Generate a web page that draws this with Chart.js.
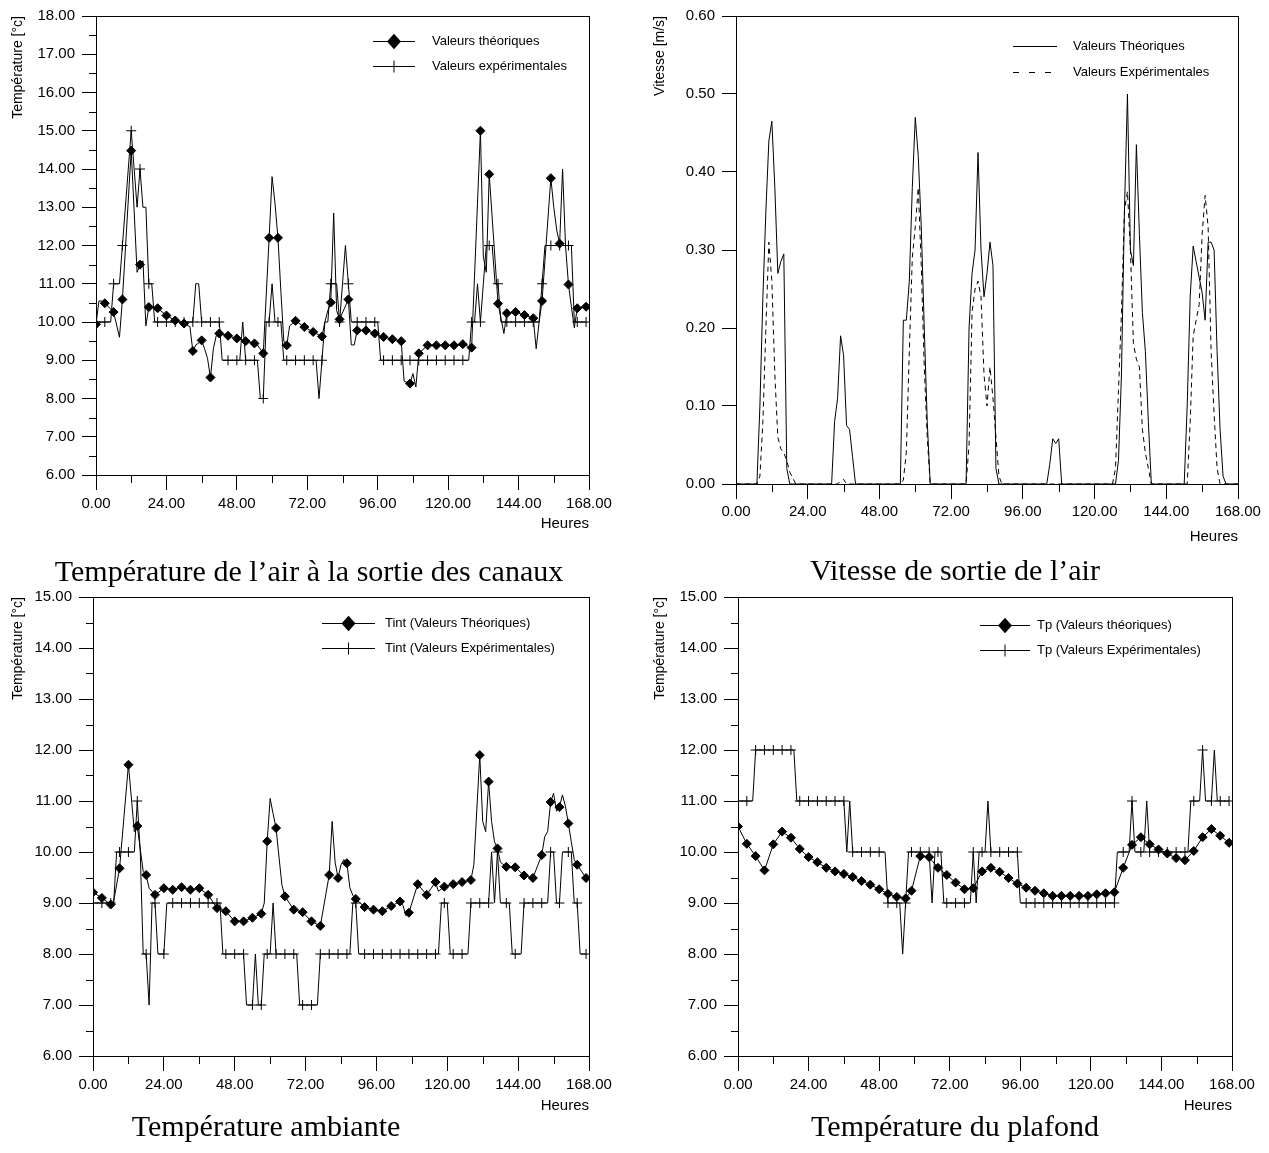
<!DOCTYPE html>
<html lang="fr">
<head>
<meta charset="utf-8">
<title>Températures et vitesse de l'air</title>
<script src="https://cdn.jsdelivr.net/npm/chart.js@4.4.1/dist/chart.umd.min.js"></script>
<style>
  html, body { margin: 0; padding: 0; background: #fff; }
  body { width: 1269px; height: 1153px; position: relative; overflow: hidden; }
  canvas { position: absolute; }
  .caption {
    position: absolute;
    font-family: "Liberation Serif", "Times New Roman", serif;
    font-size: 30px;
    color: #000;
    white-space: nowrap;
    transform: translate(-50%, -50%);
  }
</style>
</head>
<body>
<canvas id="sortie" width="630" height="545" style="left:0;top:0"></canvas>
<canvas id="vitesse" width="639" height="550" style="left:630px;top:0"></canvas>
<canvas id="ambiante" width="630" height="540" style="left:0;top:580px"></canvas>
<canvas id="plafond" width="639" height="540" style="left:630px;top:580px"></canvas>

<div class="caption" style="left:309px;top:571px">Température de l’air à la sortie des canaux</div>
<div class="caption" style="left:955px;top:570px">Vitesse de sortie de l’air</div>
<div class="caption" style="left:266px;top:1126px">Température ambiante</div>
<div class="caption" style="left:955px;top:1126px">Température du plafond</div>

<script>
// heures 0..168
const hours = Array.from({ length: 169 }, (_, h) => h);
const xMajor = [0, 24, 48, 72, 96, 120, 144, 168];
const xMinor = [12, 36, 60, 84, 108, 132, 156];
const yMinorSortie = [6.5, 7.5, 8.5, 9.5, 10.5, 11.5, 12.5, 13.5, 14.5, 15.5, 16.5, 17.5];
const yMinorTemp = [6.5, 7.5, 8.5, 9.5, 10.5, 11.5, 12.5, 13.5, 14.5];

// Température de l'air à la sortie des canaux
const theoSortie = [
  9.94, 10.55, 10.55, 10.49, null, null, 10.26, null, 9.6, 10.59, null, null,
  14.48, 12.9, 11.3, 11.5, 11.6, 9.9, 10.39, null, null, 10.36, null, null,
  10.17, null, null, 10.04, null, null, 9.96, null, 9.88, 9.24, 9.4, 9.45,
  9.52, 9.3, 9.05, 8.55, 9.3, 9.65, 9.70, null, null, 9.64, null, null,
  9.57, null, null, 9.50, null, null, 9.44, 9.4, null, 9.18,
  null, 12.2, 13.8, 13.1, 12.2, 10.8, 9.5, 9.39, 9.9, null, 10.03, null,
  null, 9.87, null, null, 9.74, null, null, 9.62, 10.0, 10.3, 10.51, 12.85,
  10.3, 10.07, null, null, 10.59, 9.4, 9.4, 9.78, null, null, 9.78, null,
  null, 9.70, null, null, 9.61, null, null, 9.55, null, null, 9.50, 8.45,
  null, 8.39, 8.65, 8.3, 9.18, null, null, 9.39, null, null, 9.39, null,
  null, 9.39, null, null, 9.39, null, null, 9.42, null, null, 9.33, null,
  null, 15.0, 11.7, 11.3, 13.86, null, null, 10.48, 10.1, 9.7, 10.23, null,
  null, 10.26, null, null, 10.18, null, null, 10.10, 9.3, 10.0, 10.55, null,
  null, 13.76, 13.0, 12.4, 12.05, 14.0, 12.0, 10.98, 10.4, 9.85, 10.36, null,
  null, 10.40
];
const expSortie = [
  10, 10, 10, 10, 10, 10, 11, 11, 11, 12, null, null,
  15, null, 13, 14, 13, 13, 11, 11, 10, 10, 10, 10,
  10, 10, 10, 10, 10, 10, 10, 10, 10, 10, 11, 11,
  10, 10, 10, 10, 10, 10, 10, 9, 9, 9, 9, 9,
  9, 9, 10, 9, 9, 9, 9, 9, 8, 8,
  10, 10, 11, 10, 10, 10, 9, 9, 9, 9, 9, 9,
  9, 9, 9, 9, 9, 9, 8, 9, 10, 10, 11, 11,
  11, 10, 11, 12, 11, 10, 10, 10, 10, 10, 10, 10,
  10, 10, 10, 9, 9, 9, 9, 9, 9, 9, 9, 9,
  9, 9, 9, 9, 9, 9, 9, 9, 9, 9, 9, 9,
  9, 9, 9, 9, 9, 9, 9, 9, 9, 9, 10, 10,
  11, 10, 11, 12, 12, 12, 11, 11, 10, 10, 10, 10,
  10, 10, 10, 10, 10, 10, 10, 10, 10, 10, 11, 12,
  12, 12, 12, 12, 12, 12, 12, 12, 12, 10, 10, 10,
  10, 10
];

// Vitesse de sortie de l'air
const theoVitesse = [
  0, 0, 0, 0, 0, 0, 0, 0, 0.10, 0.24, 0.35, 0.44,
  0.465, 0.38, 0.27, 0.285, 0.295, 0.02, 0, 0, 0, 0, 0, 0,
  0, 0, 0, 0, 0, 0, 0, 0, 0, 0.08, 0.11, 0.19,
  0.165, 0.075, 0.07, 0.035, 0, 0, 0, 0, 0, 0, 0, 0,
  0, 0, 0, 0, 0, 0, 0, 0, 0.21, 0.21, 0.26, 0.38,
  0.47, 0.42, 0.33, 0.2, 0.08, 0, 0, 0, 0, 0, 0, 0,
  0, 0, 0, 0, 0, 0, 0.2, 0.27, 0.3, 0.425, 0.3, 0.24,
  0.27, 0.31, 0.28, 0.02, 0, 0, 0, 0, 0, 0, 0, 0,
  0, 0, 0, 0, 0, 0, 0, 0, 0, 0.025, 0.058, 0.052,
  0.058, 0, 0, 0, 0, 0, 0, 0, 0, 0, 0, 0,
  0, 0, 0, 0, 0, 0, 0, 0, 0.03, 0.14, 0.35, 0.50,
  0.30, 0.28, 0.435, 0.32, 0.22, 0.17, 0.08, 0, 0, 0, 0, 0,
  0, 0, 0, 0, 0, 0, 0, 0.1, 0.24, 0.305, 0.285, 0.265,
  0.245, 0.21, 0.31, 0.31, 0.30, 0.17, 0.07, 0.01, 0, 0, 0, 0,
  0
];
const expVitesse = [
  0, 0, 0, 0, 0, 0, 0, 0, 0.01, 0.08, 0.2, 0.31,
  0.26, 0.14, 0.06, 0.045, 0.04, 0.03, 0.015, 0.008, 0, 0, 0, 0,
  0, 0, 0, 0, 0, 0, 0, 0, 0, 0, 0, 0.004,
  0.006, 0, 0, 0, 0, 0, 0, 0, 0, 0, 0, 0,
  0, 0, 0, 0, 0, 0, 0, 0, 0.005, 0.04, 0.17, 0.29,
  0.33, 0.38, 0.28, 0.15, 0.06, 0, 0, 0, 0, 0, 0, 0,
  0, 0, 0, 0, 0, 0, 0.05, 0.22, 0.25, 0.26, 0.24, 0.14,
  0.1, 0.15, 0.11, 0.06, 0.01, 0, 0, 0, 0, 0, 0, 0,
  0, 0, 0, 0, 0, 0, 0, 0, 0, 0, 0, 0,
  0, 0, 0, 0, 0, 0, 0, 0, 0, 0, 0, 0,
  0, 0, 0, 0, 0, 0, 0, 0.02, 0.12, 0.22, 0.35, 0.375,
  0.3, 0.18, 0.16, 0.15, 0.07, 0.04, 0.02, 0, 0, 0, 0, 0,
  0, 0, 0, 0, 0, 0, 0, 0, 0.08, 0.19, 0.21, 0.23,
  0.32, 0.37, 0.33, 0.17, 0.09, 0.02, 0, 0, 0, 0, 0, 0,
  0
];

// Température ambiante
const theoAmbiante = [
  9.21, null, null, 9.10, null, null, 8.97, 9.03, null, 9.68, null, null,
  11.71, null, 10.4, 10.51, null, 9.62, 9.55, 9.29, null, 9.16, null, null,
  9.29, null, null, 9.26, null, null, 9.31, null, null, 9.26, null, null,
  9.29, null, null, 9.16, null, null, 8.90, null, null, 8.84, null, null,
  8.64, null, null, 8.64, null, null, 8.71, null, null, 8.79,
  9.0, 10.21, 11.05, 10.75, 10.47, 9.9, 9.35, 9.13, null, null, 8.87, null,
  null, 8.82, null, null, 8.64, null, null, 8.55, null, null, 9.55, 10.6,
  9.8, 9.49, 9.75, 9.85, 9.78, 9.3, 9.15, 9.08, null, null, 8.92, null,
  null, 8.87, null, null, 8.84, null, null, 8.94, null, null, 9.03, 8.95,
  8.75, 8.81, null, null, 9.37, null, null, 9.16, null, null, 9.41, 9.23,
  null, 9.32, null, null, 9.37, null, null, 9.41, null, null, 9.45, 9.75,
  null, 11.9, 10.6, 10.4, 11.38, 10.6, 10.2, 10.07, 9.8, null, 9.71, null,
  null, 9.70, null, null, 9.54, null, null, 9.49, null, null, 9.94, 10.3,
  10.4, 10.98, 11.15, 10.8, 10.88, 11.12, 10.9, 10.56, 10.2, 9.85, 9.75, null,
  null, 9.49
];
const expAmbiante = [
  9, 9, 9, 9, 9, 9, 9, 9, 10, 10, 10, 10,
  10, 10, 10, 11, 10, 8, 8, 7, 9, 9, 8, 8,
  8, 9, 9, 9, 9, 9, 9, 9, 9, 9, 9, 9,
  9, 9, 9, 9, 9, 9, 9, 9, 8, 8, 8, 8,
  8, 8, 8, 8, 7, 7, 7, 8, 7, 7, 8, 8,
  8, 9, 8, 8, 8, 8, 8, 8, 8, 8, 7, 7,
  7, 7, 7, 7, 7, 8, 8, 8, 8, 8, 8, 8,
  8, 8, 8, 8, 9, 9, 8, 8, 8, 8, 8, 8,
  8, 8, 8, 8, 8, 8, 8, 8, 8, 8, 8, 8,
  8, 8, 8, 8, 8, 8, 8, 8, 8, 8, 9, 9,
  9, 8, 8, 8, 8, 8, 8, 8, 9, 9, 9, 9,
  9, 9, 9, 10, 9, 10, 9, 9, 9, 9, 8, 8,
  8, 8, 9, 9, 9, 9, 9, 9, 9, 9, 9, 10,
  10, 9, 9, 10, 10, 10, 10, 9, 9, 8, 8, 8
];

// Température du plafond
const theoPlafond = [
  10.50, null, null, 10.16, null, null, 9.92, null, null, 9.64, null, null,
  10.15, null, null, 10.40, null, null, 10.28, null, null, 10.06, null, null,
  9.90, null, null, 9.80, null, null, 9.69, null, null, 9.62, null, null,
  9.57, null, null, 9.51, null, null, 9.43, null, null, 9.36, null, null,
  9.27, null, null, 9.18, null, null, 9.12, null, null, 9.09, null, 9.24,
  null, null, 9.92, null, null, 9.90, null, null, 9.69, null, null, 9.55,
  null, null, 9.40, null, null, 9.27, null, null, 9.29, null, null, 9.62,
  null, null, 9.69, null, null, 9.61, null, null, 9.49, null, null, 9.38,
  null, null, 9.30, null, null, 9.24, null, null, 9.19, null, null, 9.14,
  null, null, 9.14, null, null, 9.14, null, null, 9.14, null, null, 9.14,
  null, null, 9.17, null, null, 9.19, null, null, 9.21, null, null, 9.69,
  null, null, 10.14, null, null, 10.29, null, null, 10.15, null, null, 10.05,
  null, null, 9.97, null, null, 9.88, null, null, 9.84, null, null, 10.02,
  null, null, 10.29, null, null, 10.45, null, null, 10.32, null, null, 10.18
];
const expPlafond = [
  11, 11, 11, 11, 11, 11, 12, 12, 12, 12, 12, 12,
  12, 12, 12, 12, 12, 12, 12, 12, 11, 11, 11, 11,
  11, 11, 11, 11, 11, 11, 11, 11, 11, 11, 11, 11,
  11, 10, 11, 10, 10, 10, 10, 10, 10, 10, 10, 10,
  10, 10, 10, 9, 9, 9, 9, 9, 8, 9, 10, 10,
  10, 10, 10, 10, 10, 10, 9, 10, 10, 10, 9, 9,
  9, 9, 9, 9, 9, 9, 9, 9, 10, 9, 10, 10,
  10, 11, 10, 10, 10, 10, 10, 10, 10, 10, 10, 10,
  9, 9, 9, 9, 9, 9, 9, 9, 9, 9, 9, 9,
  9, 9, 9, 9, 9, 9, 9, 9, 9, 9, 9, 9,
  9, 9, 9, 9, 9, 9, 9, 9, 9, 10, 10, 10,
  10, 10, 11, 10, 10, 10, 10, 11, 10, 10, 10, 10,
  10, 10, 10, 10, 10, 10, 10, 10, 10, 10, 11, 11,
  11, 11, 12, 11, 11, 11, 12, 11, 11, 11, 11, 11
];

const SANS = '"Liberation Sans", Arial, sans-serif';

// markers: every 3 h, one hour earlier after the gap near h58
const isMarker = h => (h <= 57 ? h % 3 === 0 : h % 3 === 2);

// minor ticks + closed frame around the plot
const framePlugin = {
  id: 'frame',
  afterDraw(chart, args, opts) {
    const { ctx, chartArea: a } = chart;
    const xs = chart.scales.x, ys = chart.scales.y;
    ctx.save();
    ctx.strokeStyle = '#000';
    ctx.lineWidth = 1;
    ctx.strokeRect(Math.round(a.left) + 0.5, Math.round(a.top) + 0.5,
      Math.round(a.right - a.left), Math.round(a.bottom - a.top));
    ctx.beginPath();
    (opts.xMinor || []).forEach(v => {
      const px = Math.round(xs.getPixelForValue(v)) + 0.5;
      ctx.moveTo(px, a.bottom);
      ctx.lineTo(px, a.bottom + 8);
    });
    (opts.yMinor || []).forEach(v => {
      const py = Math.round(ys.getPixelForValue(v)) + 0.5;
      ctx.moveTo(a.left, py);
      ctx.lineTo(a.left - 7, py);
    });
    ctx.stroke();
    ctx.restore();
  }
};

function drawMark(ctx, style, x, y, size) {
  ctx.beginPath();
  if (style === 'rectRot') {
    ctx.moveTo(x, y - size * 1.1);
    ctx.lineTo(x + size, y);
    ctx.lineTo(x, y + size * 1.1);
    ctx.lineTo(x - size, y);
    ctx.closePath();
    ctx.fill();
  } else if (style === 'cross') {
    ctx.moveTo(x, y - size);
    ctx.lineTo(x, y + size);
    ctx.moveTo(x - size, y);
    ctx.lineTo(x + size, y);
    ctx.stroke();
  }
}

// legend inside the plot area, line sample with its marker
const legendPlugin = {
  id: 'innerLegend',
  afterDraw(chart, args, o) {
    const { ctx, chartArea: a } = chart;
    ctx.save();
    ctx.font = '13px ' + SANS;
    ctx.fillStyle = '#000';
    ctx.strokeStyle = '#000';
    ctx.lineWidth = 1;
    ctx.textBaseline = 'middle';
    chart.data.datasets.forEach((ds, i) => {
      const y = Math.round(a.top + o.top + i * o.gap) + 0.5;
      const x0 = a.right - o.right;
      ctx.setLineDash(ds.legendDash || []);
      ctx.beginPath();
      ctx.moveTo(x0, y);
      ctx.lineTo(x0 + o.width, y);
      ctx.stroke();
      ctx.setLineDash([]);
      if (ds.markStyle) drawMark(ctx, ds.markStyle, x0 + o.width / 2, y, ds.markStyle === 'cross' ? 6 : 7);
      ctx.fillText(ds.label, x0 + o.width + o.pad, y);
    });
    ctx.restore();
  }
};

function series(label, values, style, extra) {
  return Object.assign({
    label: label,
    data: values,
    borderColor: '#000',
    backgroundColor: '#000',
    borderWidth: 1,
    tension: 0,
    spanGaps: true,
    markStyle: style,
    pointStyle: style || 'circle',
    pointRadius: c => (style && isMarker(c.dataIndex) ? (style === 'cross' ? 5 : 4.5) : 0),
    pointHoverRadius: 0,
    pointBorderWidth: 1
  }, extra || {});
}

function buildPanel(id, p) {
  const canvas = document.getElementById(id);
  const W = canvas.width, H = canvas.height;
  return new Chart(canvas, {
    type: 'line',
    data: { labels: hours, datasets: p.datasets },
    options: {
      responsive: false,
      animation: false,
      devicePixelRatio: 1,
      events: [],
      layout: { padding: { left: 0, top: p.area.top, right: W - p.area.right, bottom: 0 } },
      scales: {
        x: {
          type: 'linear',
          min: 0, max: 168,
          afterFit: s => { s.height = H - p.area.bottom; },
          afterBuildTicks: s => { s.ticks = xMajor.map(v => ({ value: v })); },
          ticks: {
            autoSkip: false, maxRotation: 0, padding: p.xPad, color: '#000',
            font: { family: SANS, size: 15 },
            callback: v => v.toFixed(2)
          },
          grid: { drawOnChartArea: false, drawTicks: true, tickLength: 15, color: '#000' },
          border: { color: '#000', width: 1 },
          title: {
            display: true, text: 'Heures', align: 'end', color: '#000',
            font: { family: SANS, size: 15 }, padding: { top: 0, bottom: p.titlePad }
          }
        },
        y: {
          min: p.yMin, max: p.yMax,
          afterFit: s => { s.width = p.area.left; },
          afterBuildTicks: s => { s.ticks = p.yTicks.map(v => ({ value: v })); },
          ticks: {
            autoSkip: false, padding: 7, color: '#000',
            font: { family: SANS, size: 15 },
            callback: v => v.toFixed(2)
          },
          grid: { drawOnChartArea: false, drawTicks: true, tickLength: 14, color: '#000' },
          border: { color: '#000', width: 1 },
          title: {
            display: true, text: p.yTitle, align: 'end', color: '#000',
            font: { family: SANS, size: 14 }, padding: { top: p.yTitlePad, bottom: 0 }
          }
        }
      },
      plugins: {
        legend: { display: false },
        tooltip: { enabled: false },
        frame: { xMinor: xMinor, yMinor: p.yMinor },
        innerLegend: p.legend
      }
    },
    plugins: [framePlugin, legendPlugin]
  });
}

const tempTicks = [6, 7, 8, 9, 10, 11, 12, 13, 14, 15];

buildPanel('sortie', {
  area: { left: 96, top: 13, right: 589, bottom: 475 },
  yMin: 6, yMax: 18,
  yTicks: [6, 7, 8, 9, 10, 11, 12, 13, 14, 15, 16, 17, 18],
  yMinor: yMinorSortie,
  yTitle: 'Température [°c]', yTitlePad: 10,
  xPad: 5, titlePad: 12,
  legend: { right: 216, top: 25, gap: 25, width: 42, pad: 17 },
  datasets: [
    series('Valeurs théoriques', theoSortie, 'rectRot'),
    series('Valeurs expérimentales', expSortie, 'cross')
  ]
});

buildPanel('vitesse', {
  area: { left: 106, top: 13, right: 608, bottom: 484 },
  yMin: 0, yMax: 0.6,
  yTicks: [0, 0.1, 0.2, 0.3, 0.4, 0.5, 0.6],
  yMinor: [],
  yTitle: 'Vitesse [m/s]', yTitlePad: 22,
  xPad: 4, titlePad: 4,
  legend: { right: 225, top: 30, gap: 26, width: 44, pad: 16 },
  datasets: [
    series('Valeurs Théoriques', theoVitesse, null),
    series('Valeurs Expérimentales', expVitesse, null, { borderDash: [5, 4], legendDash: [6, 10] })
  ]
});

buildPanel('ambiante', {
  area: { left: 93, top: 17, right: 589, bottom: 476 },
  yMin: 6, yMax: 15,
  yTicks: tempTicks,
  yMinor: yMinorTemp,
  yTitle: 'Température [°c]', yTitlePad: 10,
  xPad: 5, titlePad: 5,
  legend: { right: 267, top: 26, gap: 25, width: 53, pad: 10 },
  datasets: [
    series('Tint (Valeurs Théoriques)', theoAmbiante, 'rectRot'),
    series('Tint (Valeurs Expérimentales)', expAmbiante, 'cross')
  ]
});

buildPanel('plafond', {
  area: { left: 108, top: 17, right: 602, bottom: 476 },
  yMin: 6, yMax: 15,
  yTicks: tempTicks,
  yMinor: yMinorTemp,
  yTitle: 'Température [°c]', yTitlePad: 22,
  xPad: 5, titlePad: 5,
  legend: { right: 252, top: 28, gap: 25, width: 50, pad: 7 },
  datasets: [
    series('Tp (Valeurs théoriques)', theoPlafond, 'rectRot'),
    series('Tp (Valeurs Expérimentales)', expPlafond, 'cross')
  ]
});
</script>
</body>
</html>
